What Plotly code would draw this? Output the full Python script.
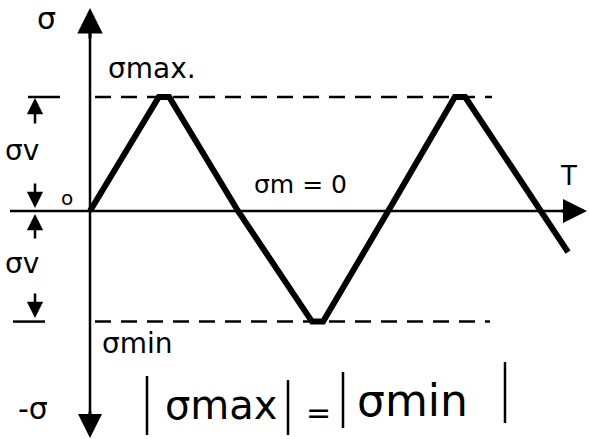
import plotly.graph_objects as go

# Wave: time in quarter-periods, stress in units of amplitude
t_vals = [0, 0.93, 1.07, 2.0, 3.0, 3.15, 4.03, 4.93, 5.07, 6.08, 6.46]
s_vals = [0, 1.0, 1.0, 0, -0.97, -0.97, 0, 1.0, 1.0, 0, -0.36]
s_max = 1.0
s_min = -0.97

X0, Q, Y0, A = 90.0, 74.0, 211.0, 114.0
def dx(px): return (px - X0) / Q
def dy(py): return (Y0 - py) / A

fig = go.Figure()
fig.add_trace(go.Scatter(x=t_vals, y=s_vals, mode="lines",
                         line=dict(color="black", width=6, shape="linear"),
                         hoverinfo="skip", showlegend=False))

shapes = []
# axes
shapes.append(dict(type="line", x0=dx(10), x1=dx(575), y0=0, y1=0, line=dict(color="black", width=2.5)))
shapes.append(dict(type="line", x0=0, x1=0, y0=dy(25), y1=dy(425), line=dict(color="black", width=2.5)))
# dashed max/min
shapes.append(dict(type="line", x0=dx(95), x1=dx(492), y0=s_max, y1=s_max, line=dict(color="black", width=2.5, dash="16px,10px")))
shapes.append(dict(type="line", x0=dx(95), x1=dx(490), y0=s_min, y1=s_min, line=dict(color="black", width=2.5, dash="16px,10px")))
# dimension ticks
shapes.append(dict(type="line", x0=dx(28), x1=dx(60), y0=s_max, y1=s_max, line=dict(color="black", width=2.5)))
shapes.append(dict(type="line", x0=dx(13), x1=dx(45), y0=s_min, y1=s_min, line=dict(color="black", width=2.5)))
# absolute-value bars
for bx, b0, b1 in [(147, 376, 435), (288, 380, 435), (343, 372, 428), (505, 362, 423)]:
    shapes.append(dict(type="line", x0=dx(bx), x1=dx(bx), y0=dy(b0), y1=dy(b1), line=dict(color="black", width=2.5)))

ann = []
def arrow(tipx, tipy, tailx, taily, size=1.3, w=2.5):
    ann.append(dict(x=dx(tipx), y=dy(tipy), ax=dx(tailx), ay=dy(taily), xref="x", yref="y",
                    axref="x", ayref="y", showarrow=True, arrowhead=2, arrowsize=size,
                    arrowwidth=w, arrowcolor="black", text=""))
# axis arrows
arrow(90, 8, 90, 40, 1.7, 3)
arrow(90, 438, 90, 410, 1.6, 3)
arrow(587, 211, 560, 211, 1.6, 3)
# dimension arrows
arrow(35, 98, 35, 125)
arrow(35, 208, 35, 182)
arrow(35, 214, 35, 240)
arrow(35, 318, 35, 292)

F = "DejaVu Sans"
def text(px, py, s, size=22, anchor="left"):
    ann.append(dict(x=dx(px), y=dy(py), xref="x", yref="y", text=s, showarrow=False,
                    xanchor=anchor, yanchor="middle", font=dict(family=F, size=size, color="black")))

text(46, 18, "σ", 30, "center")
text(106, 68, "σmax.", 28)
text(67, 198, "o", 20, "center")
text(252, 184, "σm = 0", 25)
text(568, 176, "T", 26, "center")
text(22, 150, "σv", 28, "center")
text(22, 263, "σv", 28, "center")
text(100, 343, "σmin", 28)
text(16, 408, "-σ", 30)
text(163, 405, "σmax", 40)
text(318, 412, "=", 30, "center")
text(355, 400, "σmin", 44)

fig.update_layout(
    width=589, height=439,
    margin=dict(l=0, r=0, t=0, b=0),
    paper_bgcolor="white", plot_bgcolor="white",
    xaxis=dict(range=[dx(0), dx(589)], visible=False, fixedrange=True),
    yaxis=dict(range=[dy(439), dy(0)], visible=False, fixedrange=True),
    shapes=shapes, annotations=ann, showlegend=False,
)
fig.write_html("out.html", config={"displayModeBar": False, "staticPlot": True})
with open("out.html", encoding="utf-8") as f:
    html = f.read()
html = html.replace("<head>", "<head><style>html,body{margin:0;padding:0;overflow:hidden;}</style>", 1)
with open("out.html", "w", encoding="utf-8") as f:
    f.write(html)
